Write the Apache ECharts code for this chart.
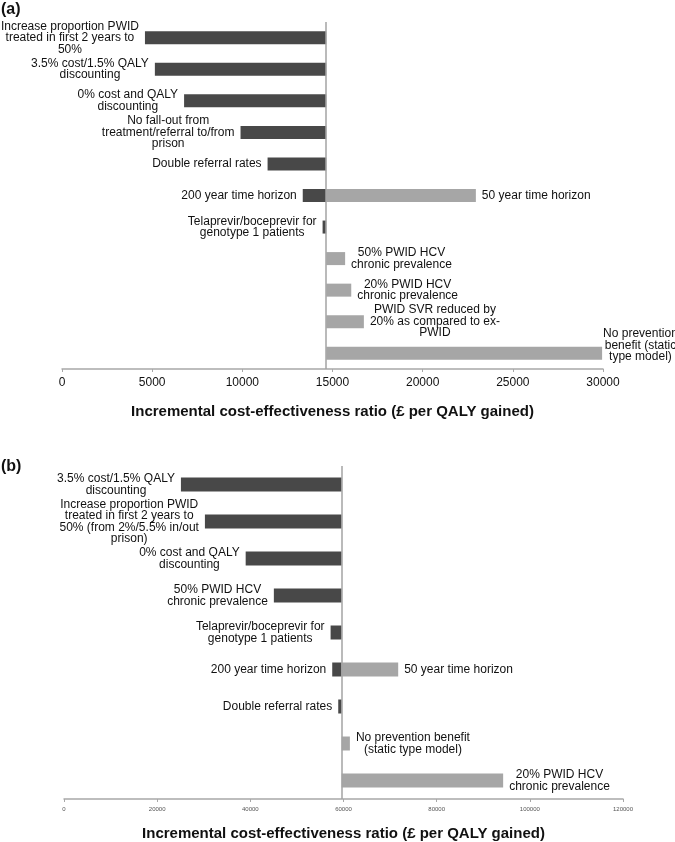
<!DOCTYPE html>
<html>
<head>
<meta charset="utf-8">
<script src="https://cdn.jsdelivr.net/npm/echarts@6/dist/echarts.min.js"></script>
<style>
  html, body { margin: 0; padding: 0; background: #fff; }
  #main { width: 675px; height: 842px; }
</style>
</head>
<body>
<div id="main"></div>
<script>
// panel (a)
var baseA = 14650;
var lowA = [4600, 5150, 6770, 9900, 11400, 13350, 14450, null, null, null, null];
var highA = [null, null, null, null, null, 22950, null, 15700, 16040, 16740, 29950];
var lowTextA = [
    'Increase proportion PWID\ntreated in first 2 years to\n50%',
    '3.5% cost/1.5% QALY\ndiscounting',
    '0% cost and QALY\ndiscounting',
    'No fall-out from\ntreatment/referral to/from\nprison',
    'Double referral rates',
    '200 year time horizon',
    'Telaprevir/boceprevir for\ngenotype 1 patients',
    '', '', '', ''
];
var highTextA = [
    '', '', '', '', '',
    '50 year time horizon',
    '',
    '50% PWID HCV\nchronic prevalence',
    '20% PWID HCV\nchronic prevalence',
    'PWID SVR reduced by\n20% as compared to ex-\nPWID',
    'No prevention\nbenefit (static\ntype model)'
];
var ticksA = { min: 0, max: 30000, interval: 5000 };

// panel (b)
var baseB = 59600;
var lowB = [25100, 30250, 39000, 45050, 57230, 57580, 58870, null, null];
var highB = [null, null, null, null, null, 71740, null, 61370, 94270];
var lowTextB = [
    '3.5% cost/1.5% QALY\ndiscounting',
    'Increase proportion PWID\ntreated in first 2 years to\n50% (from 2%/5.5% in/out\nprison)',
    '0% cost and QALY\ndiscounting',
    '50% PWID HCV\nchronic prevalence',
    'Telaprevir/boceprevir for\ngenotype 1 patients',
    '200 year time horizon',
    'Double referral rates',
    '', ''
];
var highTextB = [
    '', '', '', '', '',
    '50 year time horizon',
    '',
    'No prevention benefit\n(static type model)',
    '20% PWID HCV\nchronic prevalence'
];
var ticksB = { min: 0, max: 120000, interval: 20000 };

var axisTitle = 'Incremental cost-effectiveness ratio (£ per QALY gained)';
var FONT = '"Liberation Sans", Arial, sans-serif';

// label nudges (style only), keyed by row index
var highLabelTweakA = { 10: { distance: 1, offset: [0, -8] } };

function rows(n) {
    var r = [];
    for (var i = 0; i < n; i++) r.push('r' + i);
    return r;
}

function centered(txt) {
    return txt.split('\n').map(function (l) { return '{c|' + l + '}'; }).join('\n');
}

function lbl(pos, texts) {
    return {
        show: true,
        position: pos,
        distance: 6,
        color: '#111',
        fontFamily: FONT,
        fontSize: 12,
        lineHeight: 11.5,
        formatter: function (p) { return centered(texts[p.dataIndex]); },
        rich: { c: { align: 'center', fontFamily: FONT, fontSize: 12, lineHeight: 11.5, color: '#111' } }
    };
}

function tornado(idx, base, low, high, lowText, highText, barW, tweak) {
    var pad = [], dark = [], light = [];
    tweak = tweak || {};
    for (var i = 0; i < low.length; i++) {
        pad.push(low[i] != null ? low[i] : base);
        dark.push(low[i] != null ? base - low[i] : '-');
        var v = high[i] != null ? high[i] - base : '-';
        light.push(tweak[i] ? { value: v, label: tweak[i] } : v);
    }
    var st = 'st' + idx;
    return [
        {
            type: 'bar', stack: st, xAxisIndex: idx, yAxisIndex: idx, barWidth: barW,
            itemStyle: { color: 'transparent' }, data: pad, silent: true,
            markLine: {
                silent: true, symbol: 'none', label: { show: false },
                lineStyle: { color: '#a3a3a3', type: 'solid', width: 1.5 },
                data: [{ xAxis: base }]
            }
        },
        {
            type: 'bar', stack: st, xAxisIndex: idx, yAxisIndex: idx, barWidth: barW,
            itemStyle: { color: '#484848' }, data: dark, label: lbl('left', lowText)
        },
        {
            type: 'bar', stack: st, xAxisIndex: idx, yAxisIndex: idx, barWidth: barW,
            itemStyle: { color: '#a6a6a6' }, data: light, label: lbl('right', highText)
        }
    ];
}

function valueAxis(idx, t, labelStyle, gap) {
    labelStyle.formatter = function (v) { return String(v); };
    return {
        type: 'value', gridIndex: idx, min: t.min, max: t.max, interval: t.interval,
        splitLine: { show: false },
        axisLine: { show: true, lineStyle: { color: '#a8a8a8', width: 1.5 } },
        axisTick: { show: true, length: 3, lineStyle: { color: '#a8a8a8' } },
        axisLabel: labelStyle,
        name: axisTitle, nameLocation: 'middle', nameGap: gap,
        nameTextStyle: { fontFamily: FONT, fontSize: 15, fontWeight: 'bold', color: '#111' }
    };
}

var myChart = echarts.init(document.getElementById('main'));

var option = {
    animation: false,
    backgroundColor: '#fff',
    graphic: [
        { type: 'text', left: 1, top: 2, style: { text: '(a)', font: 'bold 16px ' + FONT, fill: '#111' } },
        { type: 'text', left: 1, top: 459, style: { text: '(b)', font: 'bold 16px ' + FONT, fill: '#111' } }
    ],
    grid: [
        { left: 62, right: 72, top: 22, bottom: 473 },
        { left: 64, right: 52, top: 466, bottom: 43 }
    ],
    xAxis: [
        valueAxis(0, ticksA, { fontFamily: FONT, fontSize: 12, color: '#111', margin: 8 }, 35),
        valueAxis(1, ticksB, { fontFamily: FONT, fontSize: 6, color: '#555', margin: 7 }, 27)
    ],
    yAxis: [
        { type: 'category', gridIndex: 0, inverse: true, data: rows(lowA.length), show: false },
        { type: 'category', gridIndex: 1, inverse: true, data: rows(lowB.length), show: false }
    ],
    series: tornado(0, baseA, lowA, highA, lowTextA, highTextA, 13, highLabelTweakA)
        .concat(tornado(1, baseB, lowB, highB, lowTextB, highTextB, 14))
};

myChart.setOption(option);
</script>
</body>
</html>
